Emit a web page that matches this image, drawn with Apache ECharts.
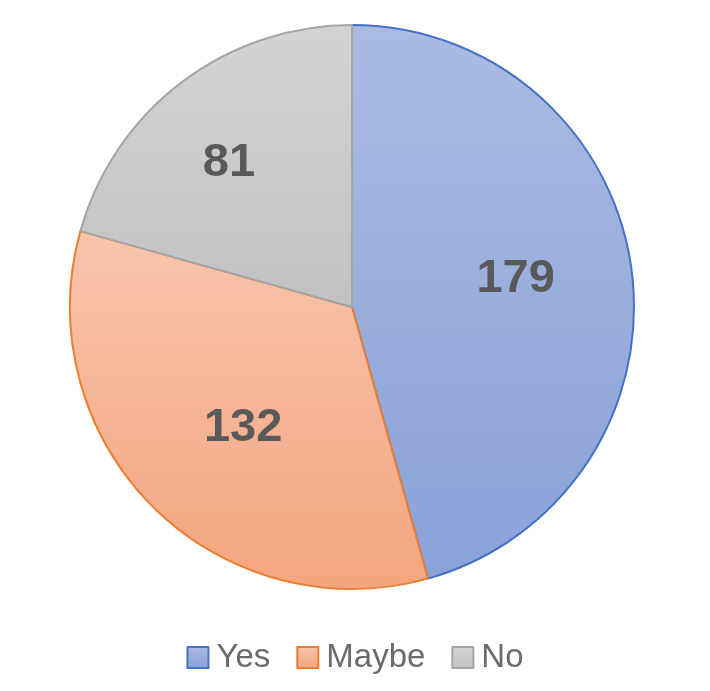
<!DOCTYPE html>
<html>
<head>
<meta charset="utf-8">
<script src="https://cdn.jsdelivr.net/npm/echarts@6/dist/echarts.min.js"></script>
<style>
  html, body { margin: 0; padding: 0; background: #fff; }
  #app { width: 710px; height: 691px; }
</style>
</head>
<body>
<div id="app"></div>
<script>
// chart data
var categories = ['Yes', 'Maybe', 'No'];
var values = [179, 132, 81];

// look of each slice: gradient top/bottom and outline
var topColors = ['#AABAE2', '#F7C4AC', '#D3D3D3'];
var bottomColors = ['#8AA2D8', '#F4A57F', '#C2C2C2'];
var borderColors = ['#4472C4', '#ED7D31', '#A5A5A5'];
// nudge labels to where Excel put them
var labelOffsets = [[21, -8], [-7, 19], [-36, -29]];

function grad(i) {
    return new echarts.graphic.LinearGradient(0, 0, 0, 1, [
        { offset: 0, color: topColors[i] },
        { offset: 1, color: bottomColors[i] }
    ]);
}

var pieData = categories.map(function (name, i) {
    return {
        name: name,
        value: values[i],
        itemStyle: { color: grad(i), borderColor: borderColors[i], borderWidth: 2 },
        label: { offset: labelOffsets[i] }
    };
});

var chart = echarts.init(document.getElementById('app'));
chart.setOption({
    animation: false,
    legend: {
        data: categories,
        icon: 'rect',
        bottom: 12,
        left: 'center',
        itemWidth: 21,
        itemHeight: 21,
        itemGap: 26,
        textStyle: {
            fontFamily: 'Liberation Sans',
            fontSize: 33,
            color: '#6B6B6B',
            padding: [0, 0, 0, 3]
        }
    },
    series: [{
        type: 'pie',
        center: [352, 307],
        radius: 282,
        startAngle: 90,
        clockwise: true,
        avoidLabelOverlap: false,
        label: {
            show: true,
            position: 'inside',
            formatter: '{c}',
            fontFamily: 'Liberation Sans',
            fontWeight: 'bold',
            fontSize: 47,
            color: '#595959'
        },
        labelLine: { show: false },
        emphasis: { disabled: true },
        data: pieData
    }]
});
</script>
</body>
</html>
